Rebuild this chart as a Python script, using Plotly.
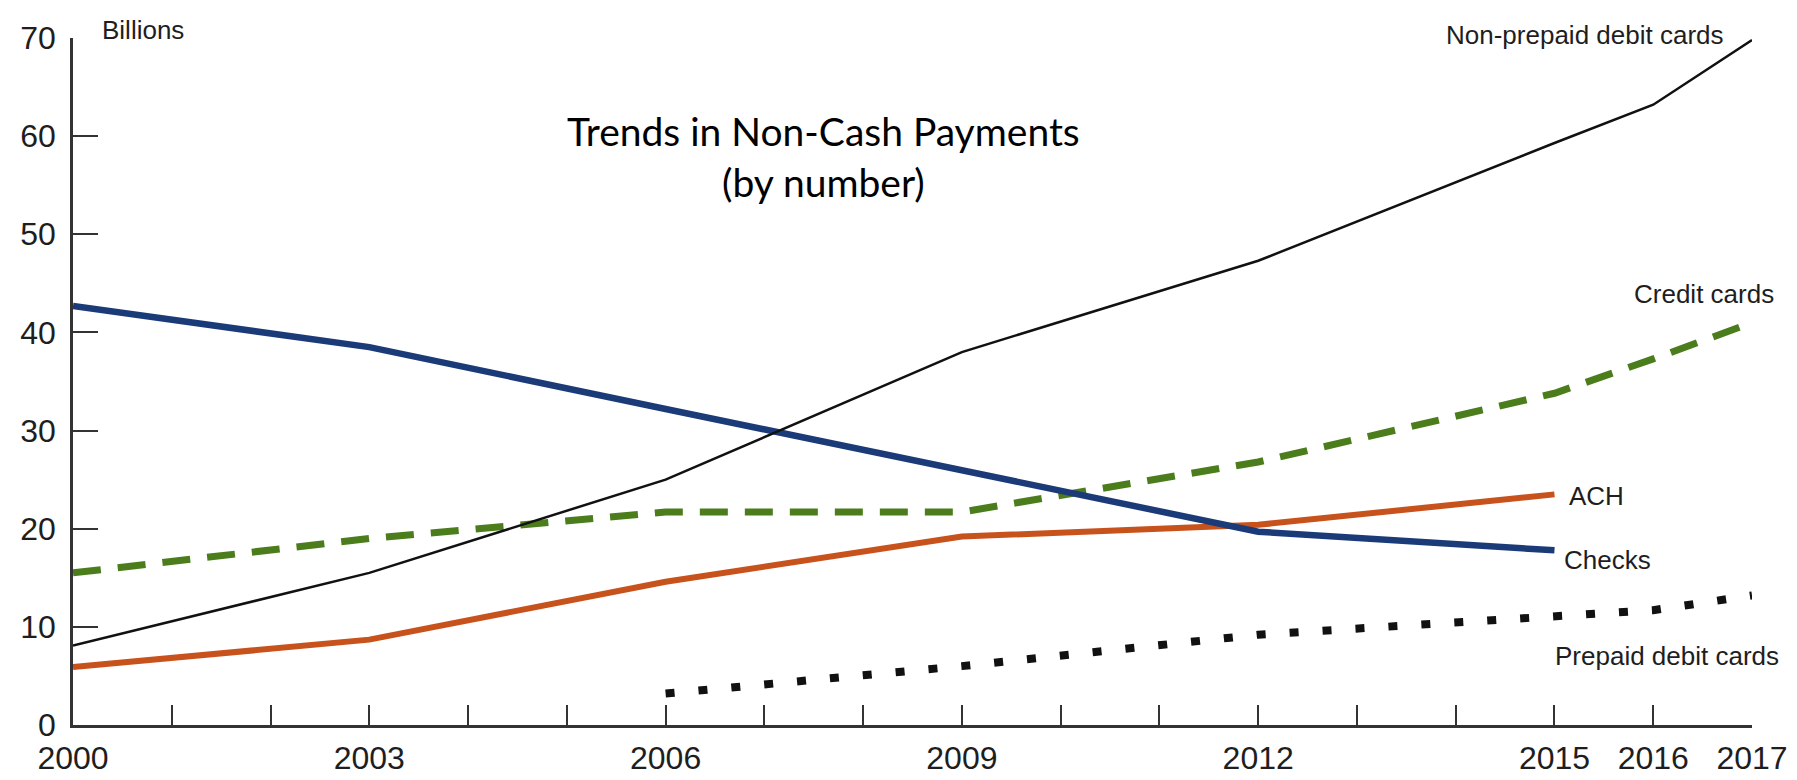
import plotly.graph_objects as go

years_all = [2000, 2003, 2006, 2009, 2012, 2015, 2016, 2017]
debit_nonprepaid = [8.1, 15.5, 25.0, 38.0, 47.3, 59.3, 63.2, 69.8]
credit_cards = [15.5, 19.0, 21.7, 21.7, 26.8, 33.8, 37.3, 41.0]

years_to2015 = [2000, 2003, 2006, 2009, 2012, 2015]
checks = [42.7, 38.5, 32.2, 25.9, 19.7, 17.8]
ach = [5.9, 8.7, 14.6, 19.2, 20.4, 23.5]

years_prepaid = [2006, 2009, 2012, 2015, 2016, 2017]
prepaid_debit = [3.2, 6.0, 9.2, 11.1, 11.7, 13.2]

tick_years = list(range(2000, 2018))
labelled = {2000, 2003, 2006, 2009, 2012, 2015, 2016, 2017}
tick_text = [str(y) if y in labelled else "" for y in tick_years]
y_ticks = [0, 10, 20, 30, 40, 50, 60, 70]

SANS = "Liberation Sans, Arial, sans-serif"
TXT = "#1e1e1e"

fig = go.Figure()
fig.add_trace(go.Scatter(x=years_all, y=credit_cards, mode="lines", name="Credit cards",
                         line=dict(color="#4c7d1c", width=7, dash="28px,17px")))
fig.add_trace(go.Scatter(x=years_to2015, y=ach, mode="lines", name="ACH",
                         line=dict(color="#c8521c", width=6)))
fig.add_trace(go.Scatter(x=years_to2015, y=checks, mode="lines", name="Checks",
                         line=dict(color="#1b3b78", width=6.5)))
fig.add_trace(go.Scatter(x=years_all, y=debit_nonprepaid, mode="lines", name="Non-prepaid debit cards",
                         line=dict(color="#111111", width=2.5)))
fig.add_trace(go.Scatter(x=years_prepaid, y=prepaid_debit, mode="lines", name="Prepaid debit cards",
                         line=dict(color="#111111", width=8, dash="9px,24px")))

ann_font = dict(family=SANS, size=26, color=TXT)
# labels above the top of the y range use paper coordinates (1.0 = 70)
anns_paper = [
    dict(text="Billions", x=2000.27, y=1.012, xanchor="left", yanchor="middle"),
    dict(text="Non-prepaid debit cards", x=2016.74, y=1.004, xanchor="right", yanchor="middle"),
]
for a in anns_paper:
    fig.add_annotation(xref="x", yref="paper", showarrow=False, font=ann_font, **a)

anns = [
    dict(text="Credit cards", x=2015.78, y=43.9, xanchor="left", yanchor="middle"),
    dict(text="ACH", x=2015.13, y=23.3, xanchor="left", yanchor="middle"),
    dict(text="Checks", x=2015.08, y=16.8, xanchor="left", yanchor="middle"),
    dict(text="Prepaid debit cards", x=2014.98, y=7.0, xanchor="left", yanchor="middle"),
]
for a in anns:
    fig.add_annotation(xref="x", yref="y", showarrow=False, font=ann_font, **a)

fig.add_annotation(xref="paper", yref="y", x=0.447, y=57.9, showarrow=False,
                   text="Trends in Non-Cash Payments<br>(by number)",
                   font=dict(family="Lato, Open Sans, sans-serif", size=39, color="#000000"),
                   align="center", xanchor="center", yanchor="middle")

fig.update_layout(
    width=1797, height=780,
    margin=dict(l=61, r=53, t=27, b=53),
    paper_bgcolor="white", plot_bgcolor="white",
    showlegend=False,
)
fig.update_xaxes(range=[2000, 2017], tickvals=tick_years, ticktext=tick_text,
                 ticks="inside", ticklen=20, tickwidth=2, tickcolor="#333333",
                 showline=True, linecolor="#333333", linewidth=2.5,
                 showgrid=False, zeroline=False, ticklabelstandoff=3,
                 tickfont=dict(family=SANS, size=32, color=TXT))
fig.update_yaxes(range=[0, 70], tickvals=y_ticks,
                 ticks="inside", ticklen=25, tickwidth=2, tickcolor="#333333",
                 showline=True, linecolor="#333333", linewidth=2.5,
                 showgrid=False, zeroline=False, ticklabelstandoff=8,
                 tickfont=dict(family=SANS, size=32, color=TXT))

fig.write_html("out.html")
